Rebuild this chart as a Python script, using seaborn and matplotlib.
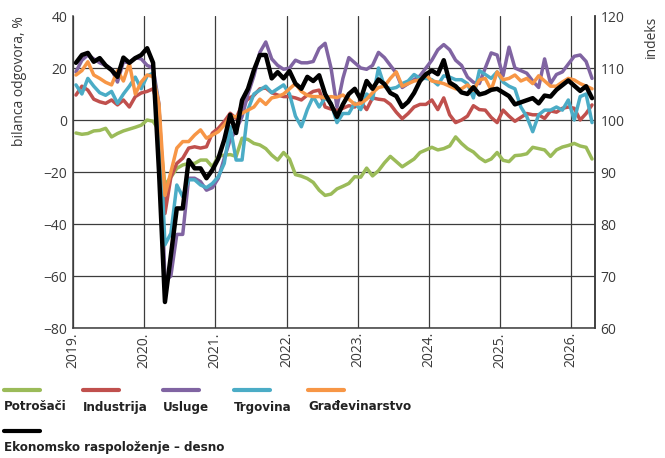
import numpy as np
import pandas as pd
import seaborn as sns
import matplotlib.pyplot as plt
from matplotlib import font_manager
from matplotlib.lines import Line2D

# monthly data, 2019-01 .. 2026-04
godine = ['2019.', '2020.', '2021.', '2022.', '2023.', '2024.', '2025.', '2026.']

potrosaci = [
    -5, -5.5, -5.2, -4.2, -4, -3.2, -6.5, -5.2, -4.2, -3.5, -2.8, -2,
    0, -0.5, -4, -25, -22, -18.6, -17.3, -16.7, -16.7, -15.4, -15.4, -18,
    -14, -13.5, -13.3, -14, -7, -7.5, -9, -9.6, -11, -13.5, -15.4, -12.5,
    -15, -21, -21.6, -22.5, -24, -27, -29, -28.5, -26.5, -25.5, -24.4, -21.8,
    -22, -18.5, -21.5, -19.5, -16.5, -14, -16, -18, -16.5, -15, -12.5, -11.5,
    -10.5, -11.5, -11, -10, -6.5, -9, -11, -12.3, -14.5, -16, -15, -12.5,
    -15.5, -16, -13.7, -13.5, -13, -10.5, -11, -11.5, -14, -11.5, -10.4, -9.8,
    -9, -10, -10.5, -15]

industrija = [
    9.6, 13, 11.5, 8, 7, 6.4, 7.7, 5.8, 7.7, 5, 9, 10.4,
    11, 12, 4, -36, -22, -16.7, -14.7, -10.8, -10.3, -10.8, -10.3, -5,
    -3.2, -0.6, 2.6, 0.6, 6, 8, 9.5, 12, 12.3, 10.5, 9.6, 9,
    9, 8.5, 7.7, 9.6, 11, 11.5, 5, 4.2, 3.8, 4.5, 5.5, 5,
    7, 4, 8.5, 8, 7.7, 6, 3, 0.5, 2.5, 5, 6, 6,
    7.7, 4, 8.5, 2, -1, 0, 1.5, 5.5, 4, 3.8, 1, -1,
    3.8, 1.5, -0.5, 1, 2.5, 2, 2, 0.6, 3.5, 3, 4.5, 5,
    4.5, 0, 2.5, 5.8]

usluge = [
    18.5, 23, 25, 23.5, 22, 21, 19.5, 14.6, 22.4, 22, 24, 23.5,
    21, 20, 6, -62, -60, -44, -44, -22.4, -22.4, -23.7, -27, -26,
    -22.4, -14.7, -7.7, -3.8, 1.3, 10, 17, 26, 30, 23.5, 21, 19.5,
    20, 23, 22, 22, 22.5, 27.5, 29.5, 20, 5, 16, 24, 22,
    20, 19.5, 21, 26, 24, 21, 18, 12.5, 14, 15.5, 17, 20,
    23, 27, 29, 27, 23, 21, 16.5, 14.5, 14, 20, 25.8, 25,
    17, 28, 20, 19, 18, 15, 12.5, 23.5, 14, 17.5, 18.5, 21.5,
    24.5, 25, 22.5, 16]

trgovina = [
    13.5, 10, 16, 13, 10.5, 9.5, 11, 6.4, 10, 13, 16.5, 12,
    17, 18, 5, -48, -43.6, -25, -29.5, -23, -23, -25, -26, -24.4,
    -21.8, -16.7, -2.6, -15.4, -15.4, 4, 10, 11.5, 13, 10.5, 12, 13.5,
    10, 1.5, -2.6, 4, 9, 5, 8.5, 6.5, -1, 2.5, 2.5, 6.5,
    4, 10, 8, 20, 13, 12, 12.5, 14, 15, 17.5, 16, 16,
    15.5, 13.5, 17, 16.5, 15.5, 15.5, 14, 8.5, 19, 17.5, 16, 18.5,
    14.6, 13, 12, 5, 1.3, -4.5, 2, 3.8, 3.8, 5, 3.8, 7.7,
    0, 9, 10, -1]

gradevinarstvo = [
    17.3, 19, 22.4, 17.3, 16, 14.5, 13.5, 19, 15, 21.8, 10, 14.6,
    17.3, 16.7, 6, -29, -20, -10.8, -8.3, -8.3, -5.8, -3.8, -7, -5.8,
    -4.5, -1.9, 1.3, 1.3, 2.6, 3.8, 5, 8, 6, 8.5, 9, 10,
    12, 14, 11, 9.5, 9, 9, 8.5, 9, 8.6, 9.6, 8, 6,
    6.4, 8, 10.5, 12.5, 13, 16, 18.5, 13, 14, 15, 15.4, 17.3,
    15, 14.6, 14, 13, 12, 12, 13.5, 11.5, 15.4, 16, 11.5, 18.5,
    15.5, 16, 17.3, 15, 16, 14, 17, 15, 13, 13, 14.6, 16,
    15.4, 14, 13, 12]

ekonomsko = [
    111, 112.5, 112.9, 111.2, 111.9, 110.5, 109.6, 108.3, 112, 111, 111.9, 112.5,
    113.8, 111, 90, 65, 74, 83, 83, 92.3, 90.7, 90.7, 88.8, 90.4,
    92.6, 96.2, 101, 97.5, 103.8, 106, 109.6, 112.5, 112.5, 108, 109.2, 108,
    109.4, 107, 106, 108.3, 107.5, 108.6, 105, 103, 100.6, 103, 105, 106,
    104, 107.5, 106, 107.8, 106.9, 105.2, 104.6, 102.5, 103.5, 105.2, 107.5, 108.8,
    109.5, 108.8, 111.5, 107.2, 106.5, 105.3, 105, 106.3, 104.9, 105.2, 105.8, 106,
    105.3, 104.6, 103, 103.4, 103.8, 104.2, 103.2, 104.7, 104.5, 105.8, 106.7, 107.6,
    106.6, 105.6, 106.5, 104.2]

serije = {'Potrošači': potrosaci, 'Industrija': industrija, 'Usluge': usluge,
          'Trgovina': trgovina, 'Građevinarstvo': gradevinarstvo}
boje = ['#9BBB59', '#C0504D', '#8064A2', '#4BACC6', '#F79646']

n = len(ekonomsko)
mjesec = np.arange(n) + 0.5
df = pd.concat([pd.DataFrame({'mjesec': mjesec, 'vrijednost': v, 'serija': k})
                for k, v in serije.items()], ignore_index=True)

sns.set_style('white')
plt.rcParams['font.family'] = ['Open Sans', 'DejaVu Sans']

# a narrow bold face for the legend, if one is installed
leg_font = None
for f in font_manager.fontManager.ttflist:
    fn = f.fname.lower()
    if ('narrow' in fn or 'condensed' in fn) and 'bold' in fn and 'oblique' not in fn and 'italic' not in fn:
        leg_font = font_manager.FontProperties(fname=f.fname, size=9.5)
        break
if leg_font is None:
    leg_font = font_manager.FontProperties(family='Roboto', weight='bold', size=8.5)

grid_col = '#3c3c3c'
text_col = '#3a3a3a'

fig = plt.figure(figsize=(6.65, 4.58), dpi=100)
ax = fig.add_axes([73 / 665, 1 - 328 / 458, (595 - 73) / 665, (328 - 16) / 458])

sns.lineplot(data=df, x='mjesec', y='vrijednost', hue='serija', palette=boje,
             linewidth=2.5, legend=False, ax=ax)

ax.set_xlim(0, n)
ax.set_ylim(-80, 40)
ax.set_yticks(np.arange(-80, 41, 20))
ax.set_yticklabels([str(t).replace('-', '\u2212') for t in range(-80, 41, 20)])
ax.set_xticks(np.arange(0, n, 12))
ax.set_xticklabels(godine, rotation=90)
ax.set_xlabel('')
ax.set_ylabel('bilanca odgovora, %', loc='top', fontsize=10, color=text_col, labelpad=12)
ax.grid(True, color=grid_col, linewidth=0.9)
ax.set_axisbelow(True)
ax.yaxis.get_gridlines()[-1].set_visible(False)
ax.tick_params(length=0, labelsize=10, colors=text_col, pad=4)
ax.tick_params(axis='x', pad=3)
for s in ['left', 'bottom', 'right']:
    ax.spines[s].set_color(grid_col)
    ax.spines[s].set_linewidth(1.1)
ax.spines['top'].set_visible(False)

ax2 = ax.twinx()
sns.lineplot(x=mjesec, y=ekonomsko, color='black', linewidth=3.2, ax=ax2)
ax2.set_ylim(60, 120)
ax2.set_yticks(np.arange(60, 121, 10))
ax2.set_ylabel('indeks', loc='top', fontsize=10, color=text_col, labelpad=14)
ax2.tick_params(length=0, labelsize=10, colors=text_col, pad=4)
ax2.spines['top'].set_visible(False)
ax2.spines['left'].set_visible(False)
ax2.spines['bottom'].set_visible(False)
ax2.spines['right'].set_color(grid_col)
ax2.spines['right'].set_linewidth(1.1)

# legend below the chart: key line above each label
W, H = 665, 458
leg_x = [4, 83, 163, 234, 308]
for x0, (name, col) in zip(leg_x, zip(serije.keys(), boje)):
    fig.add_artist(Line2D([x0 / W, (x0 + 36) / W], [1 - 390 / H] * 2,
                          transform=fig.transFigure, color=col, linewidth=3))
    fig.text(x0 / W, 1 - 407 / H, name, va='center', ha='left',
             fontproperties=leg_font, color='#222222')
fig.add_artist(Line2D([4 / W, 40 / W], [1 - 431 / H] * 2,
                      transform=fig.transFigure, color='black', linewidth=3))
fig.text(4 / W, 1 - 447 / H, 'Ekonomsko raspoloženje \u2013 desno', va='center', ha='left',
         fontproperties=leg_font, color='#222222')

fig.savefig('out.png', dpi=100, facecolor='white')
